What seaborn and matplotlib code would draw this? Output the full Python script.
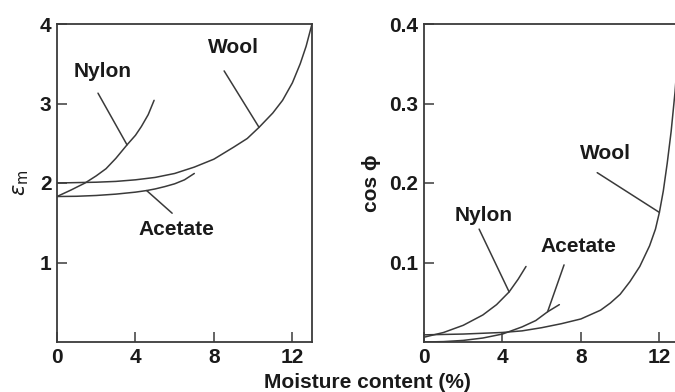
import matplotlib
matplotlib.use("Agg")
import matplotlib.pyplot as plt
import seaborn as sns

# Relative permittivity (left) vs moisture content (%)
wool_eps_x = [0, 1, 2, 3, 4, 5, 6, 7, 8, 9, 9.7, 10.3, 11, 11.5, 12, 12.4, 12.7, 13]
wool_eps_y = [2.0, 2.005, 2.01, 2.02, 2.04, 2.07, 2.12, 2.2, 2.3, 2.45, 2.56, 2.7, 2.88, 3.04, 3.26, 3.5, 3.72, 4.0]
nylon_eps_x = [0, 0.7, 1.43, 2.0, 2.5, 3.0, 3.57, 4.0, 4.3, 4.65, 4.95]
nylon_eps_y = [1.83, 1.91, 2.0, 2.09, 2.18, 2.31, 2.48, 2.6, 2.71, 2.86, 3.04]
acetate_eps_x = [0, 1, 2, 3, 4, 4.57, 5, 5.5, 6, 6.5, 7]
acetate_eps_y = [1.83, 1.833, 1.843, 1.86, 1.885, 1.905, 1.925, 1.955, 1.99, 2.04, 2.12]

# Loss factor cos phi (right) vs moisture content (%)
wool_cos_x = [0, 2, 4, 5, 6, 7, 8, 9, 9.5, 10, 10.5, 11, 11.5, 11.8, 12, 12.2, 12.4, 12.6, 12.8, 13]
wool_cos_y = [0.009, 0.010, 0.012, 0.014, 0.018, 0.023, 0.029, 0.04, 0.049, 0.06, 0.076, 0.095, 0.121, 0.142, 0.163, 0.19, 0.225, 0.265, 0.315, 0.38]
nylon_cos_x = [0, 1, 2, 3, 3.7, 4.34, 4.8, 5.2]
nylon_cos_y = [0.006, 0.012, 0.021, 0.034, 0.047, 0.063, 0.079, 0.095]
acetate_cos_x = [0, 1, 2, 3, 4, 5, 5.7, 6.3, 6.9]
acetate_cos_y = [0.0, 0.0005, 0.002, 0.005, 0.010, 0.019, 0.027, 0.038, 0.047]

x_ticks = [0, 4, 8, 12]
eps_ticks = [1, 2, 3, 4]
cos_ticks = [0.1, 0.2, 0.3, 0.4]

sns.set_theme(style="white")
plt.rcParams["font.family"] = ["Liberation Sans", "DejaVu Sans"]
plt.rcParams["mathtext.fontset"] = "dejavusans"
plt.rcParams["lines.solid_joinstyle"] = "round"

INK = "#1a1a1a"
LINE = "#3a3a3a"
FS = 15
WT = "bold"

fig = plt.figure(figsize=(6.75, 3.92), dpi=100)
ax1 = fig.add_axes([57 / 675, 1 - 342 / 392, 255 / 675, 318 / 392])
ax2 = fig.add_axes([424 / 675, 1 - 342 / 392, 255 / 675, 318 / 392])


def draw(ax, xs, ys):
    sns.lineplot(x=xs, y=ys, ax=ax, color=LINE, lw=1.1, sort=False,
                 estimator=None, legend=False)


for xs, ys in [(wool_eps_x, wool_eps_y), (nylon_eps_x, nylon_eps_y),
               (acetate_eps_x, acetate_eps_y)]:
    draw(ax1, xs, ys)
for xs, ys in [(wool_cos_x, wool_cos_y), (nylon_cos_x, nylon_cos_y),
               (acetate_cos_x, acetate_cos_y)]:
    draw(ax2, xs, ys)


def label(ax, text, txy, lxy, xs, ys, idx):
    ax.text(*txy, text, ha="center", va="center", fontsize=FS, color=INK,
            fontweight=WT)
    ax.annotate("", xy=(xs[idx], ys[idx]), xytext=lxy,
                arrowprops=dict(arrowstyle="-", color=LINE, lw=1.1,
                                shrinkA=0, shrinkB=0))


label(ax1, "Nylon", (2.35, 3.40), (2.09, 3.13), nylon_eps_x, nylon_eps_y, 6)
label(ax1, "Wool", (8.98, 3.70), (8.52, 3.41), wool_eps_x, wool_eps_y, 11)
label(ax1, "Acetate", (6.07, 1.41), (5.87, 1.62), acetate_eps_x, acetate_eps_y, 5)

label(ax2, "Nylon", (3.06, 0.159), (2.81, 0.142), nylon_cos_x, nylon_cos_y, 5)
label(ax2, "Acetate", (7.86, 0.120), (7.14, 0.097), acetate_cos_x, acetate_cos_y, 7)
label(ax2, "Wool", (9.23, 0.237), (8.83, 0.213), wool_cos_x, wool_cos_y, 14)

for ax, yt, ylim in [(ax1, eps_ticks, (0, 4)), (ax2, cos_ticks, (0, 0.4))]:
    ax.set_xlim(0, 13)
    ax.set_ylim(*ylim)
    ax.set_xticks(x_ticks)
    ax.set_yticks(yt)
    ax.set_xticklabels([str(v) for v in x_ticks], fontweight=WT)
    ax.tick_params(direction="in", length=7, width=1.1, color=LINE,
                   labelsize=FS, labelcolor=INK, pad=4,
                   bottom=True, left=True, top=False, right=False)
    for s in ax.spines.values():
        s.set_color(LINE)
        s.set_linewidth(1.3)
    ax.set_facecolor("white")

ax1.set_yticklabels([str(v) for v in eps_ticks], fontweight=WT)
ax2.set_yticklabels([f"{v:.1f}" for v in cos_ticks], fontweight=WT)
ax1.set_ylabel(r"$\varepsilon_\mathrm{m}$", fontsize=FS, color=INK, labelpad=6)
ax2.set_ylabel("cos ϕ", fontsize=FS, color=INK, labelpad=6, fontweight=WT)

fig.text(367 / 675, 1 - 382 / 392, "Moisture content (%)", ha="center",
         va="center", fontsize=FS, color=INK, fontweight=WT)

fig.savefig("out.png", dpi=100, facecolor="white")
